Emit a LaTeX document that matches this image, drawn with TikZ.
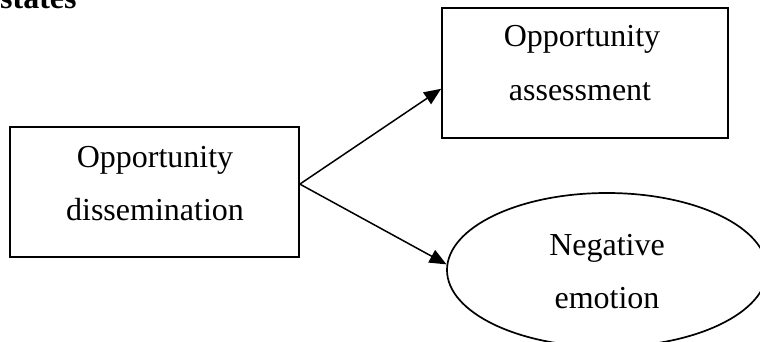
\documentclass[tikz,border=0pt]{standalone}
\usepackage{fontspec}
\setmainfont{Liberation Serif}
\usetikzlibrary{arrows.meta,shapes.geometric,calc}
\begin{document}
\begin{tikzpicture}[x=1pt,y=-1pt,
  frame/.style={draw=black,line width=1.7pt,fill=none,inner sep=0pt},
  txt/.style={anchor=base,inner sep=0pt,font=\fontsize{32}{38}\selectfont},
  link/.style={line width=1.5pt,-{Triangle[length=17pt,width=14pt]}}]
\useasboundingbox (0,0) rectangle (760,342);

% heading fragment
\node[anchor=base west,inner sep=0pt,font=\fontsize{32}{38}\selectfont\bfseries] (hd) at (0,8.5) {states};

% shapes
\node[frame,rectangle,minimum width=289pt,minimum height=130pt] (dis) at (154.5,192) {};
\node[frame,rectangle,minimum width=286pt,minimum height=130pt] (ass) at (585,73) {};
\node[frame,ellipse,minimum width=320pt,minimum height=154pt] (neg) at (607,270) {};

% labels
\node[txt] (dis1) at (155,167) {Opportunity};
\node[txt] (dis2) at (155,220) {dissemination};
\node[txt] (ass1) at (582,47) {Opportunity};
\node[txt] (ass2) at (580,101) {assessment};
\node[txt] (neg1) at (607,255) {Negative};
\node[txt] (neg2) at (607,308) {emotion};

% connectors
\coordinate (fork) at ($(dis.north east)!0.44!(dis.south east)$);
\coordinate (asin) at ($(ass.north west)!0.62!(ass.south west)$);
\draw[link] (fork) -- (asin);
\draw[link] (fork) -- (neg.178);
\end{tikzpicture}
\end{document}
